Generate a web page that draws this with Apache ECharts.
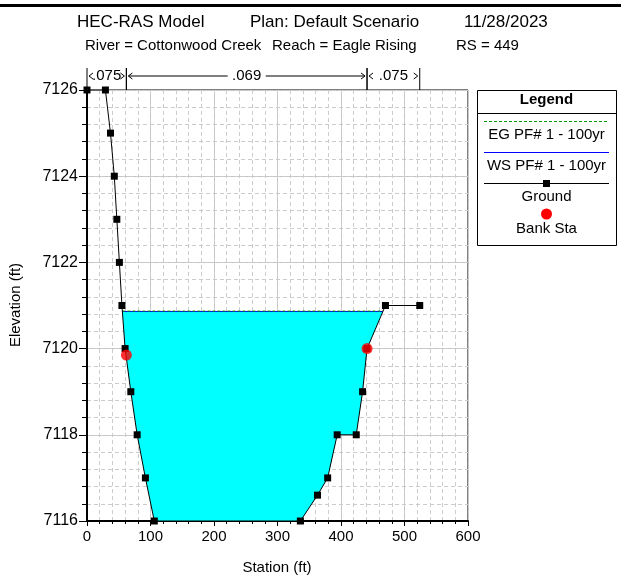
<!DOCTYPE html>
<html><head><meta charset="utf-8">
<script src="https://cdn.jsdelivr.net/npm/echarts@6/dist/echarts.min.js"></script>
<style>html,body{margin:0;padding:0;background:#fff}#c{width:621px;height:586px}</style>
</head><body><div id="c"></div>
<script>
// ---- data ----
const groundStation = [0, 29, 37, 43, 47, 51, 55, 60, 69, 79, 92, 106, 336, 363, 379, 394, 424, 434, 441, 470, 524];
const groundElev    = [7126, 7126, 7125, 7124, 7123, 7122, 7121, 7120, 7119, 7118, 7117, 7116, 7116, 7116.6, 7117, 7118, 7118, 7119, 7120, 7121, 7121];
const bankStation = [62, 441];
const bankElev    = [7119.85, 7120];
const wsElev = 7120.86;
const egElev = 7120.87;
const nBoundaries = [0, 62, 441, 524];
const nValues = ['.075', '.069', '.075'];
const xTickLabels = [0, 100, 200, 300, 400, 500, 600];
const yTickLabels = [7116, 7118, 7120, 7122, 7124, 7126];

const FONT = '"Liberation Sans", Arial, sans-serif';
const xMin = xTickLabels[0], xMax = xTickLabels[xTickLabels.length - 1];
const yMin = yTickLabels[0], yMax = yTickLabels[yTickLabels.length - 1];

// wetted polygon below the water surface
function wetted(st, el, ws) {
  const pts = [];
  for (let i = 0; i < st.length; i++) {
    if (i > 0) {
      const e0 = el[i - 1], e1 = el[i];
      if ((e0 - ws) * (e1 - ws) < 0) {
        const t = (ws - e0) / (e1 - e0);
        pts.push([st[i - 1] + t * (st[i] - st[i - 1]), ws]);
      }
    }
    if (el[i] < ws) pts.push([st[i], el[i]]);
  }
  return pts;
}
const water = wetted(groundStation, groundElev, wsElev);
const wsL = water[0][0], wsR = water[water.length - 1][0];

const ground = groundStation.map((s, i) => [s, groundElev[i]]);
const banks = bankStation.map((s, i) => [s, bankElev[i]]);
const nSegs = nValues.map((v, i) => [nBoundaries[i], nBoundaries[i + 1]]);

const chart = echarts.init(document.getElementById('c'), null, { renderer: 'canvas' });

const option = {
  animation: false,
  backgroundColor: '#fff',
  grid: { left: 87, top: 90, width: 381, height: 431, show: true, borderColor: '#000', borderWidth: 1, backgroundColor: 'transparent' },
  xAxis: [
    { type: 'value', min: xMin, max: xMax, interval: 100, position: 'bottom',
      axisLine: { show: true, onZero: false, lineStyle: { color: '#000', width: 2 } },
      axisTick: { show: true, inside: false, length: 5, lineStyle: { color: '#000' } },
      axisLabel: { margin: 8, color: '#000', fontSize: 15, fontFamily: FONT, formatter: v => String(v) },
      splitLine: { show: true, lineStyle: { color: '#c4c4c4', width: 1 } } },
    { type: 'value', min: xMin, max: xMax, interval: 20, position: 'bottom',
      axisLine: { show: false },
      axisTick: { show: true, inside: false, length: 3, lineStyle: { color: '#000' } },
      axisLabel: { show: false },
      splitLine: { show: true, lineStyle: { color: '#cccccc', width: 1, type: [4, 3] } } }
  ],
  yAxis: [
    { type: 'value', min: yMin, max: yMax, interval: 2, position: 'left',
      axisLine: { show: true, onZero: false, lineStyle: { color: '#000', width: 2 } },
      axisTick: { show: true, inside: false, length: 8, lineStyle: { color: '#000' } },
      axisLabel: { margin: 9, color: '#000', fontSize: 16, fontFamily: FONT, formatter: v => String(v) },
      splitLine: { show: true, lineStyle: { color: '#c4c4c4', width: 1 } } },
    { type: 'value', min: yMin, max: yMax, interval: 0.4, position: 'left',
      axisLine: { show: false },
      axisTick: { show: true, inside: false, length: 5, lineStyle: { color: '#000' } },
      axisLabel: { show: false },
      splitLine: { show: true, lineStyle: { color: '#cccccc', width: 1, type: [4, 3] } } }
  ],
  series: [
    { type: 'custom', name: 'water', xAxisIndex: 0, yAxisIndex: 0, z: 1, silent: true,
      data: water,
      renderItem: function (params, api) {
        if (params.dataIndex !== 0) return { type: 'group', children: [] };
        return { type: 'polygon', shape: { points: water.map(q => api.coord(q)) }, style: { fill: '#00ffff', stroke: null } };
      } },
    { type: 'line', name: 'WS PF# 1 - 100yr', z: 2, data: [[wsL, wsElev], [wsR, wsElev]], symbol: 'none',
      lineStyle: { color: '#0000ff', width: 1 } },
    { type: 'line', name: 'EG PF# 1 - 100yr', z: 3, data: [[wsL, egElev], [wsR, egElev]], symbol: 'none',
      lineStyle: { color: '#009900', width: 1, type: [3, 2] } },
    { type: 'line', name: 'Ground', z: 4, data: ground, symbol: 'rect', symbolSize: 7,
      itemStyle: { color: '#000' }, lineStyle: { color: '#000', width: 1 } },
    { type: 'scatter', name: 'Bank Sta', z: 5, data: banks, symbol: 'circle', symbolSize: 11,
      itemStyle: { color: '#ff0000' } },
    { type: 'custom', name: 'n', xAxisIndex: 0, yAxisIndex: 0, z: 6, clip: false, silent: true,
      data: nSegs,
      renderItem: function (params, api) {
        const a = api.coord([api.value(0), yMax]);
        const b = api.coord([api.value(1), yMax]);
        const top = a[1], y0 = top - 22, yl = top - 14;
        const cx = (a[0] + b[0]) / 2, half = 19;
        const ls = { stroke: '#000', lineWidth: 1, fill: null };
        const ch = [
          { type: 'line', shape: { x1: a[0], y1: y0, x2: a[0], y2: top }, style: ls },
          { type: 'line', shape: { x1: b[0], y1: y0, x2: b[0], y2: top }, style: ls },
          { type: 'polyline', shape: { points: [[a[0] + 6, yl - 3], [a[0] + 2, yl], [a[0] + 6, yl + 3]] }, style: ls },
          { type: 'polyline', shape: { points: [[b[0] - 6, yl - 3], [b[0] - 2, yl], [b[0] - 6, yl + 3]] }, style: ls }
        ];
        if (cx - half - (a[0] + 2) > 8) ch.push({ type: 'line', shape: { x1: a[0] + 2, y1: yl, x2: cx - half, y2: yl }, style: ls });
        if ((b[0] - 2) - (cx + half) > 8) ch.push({ type: 'line', shape: { x1: cx + half, y1: yl, x2: b[0] - 2, y2: yl }, style: ls });
        ch.push({ type: 'text', style: { text: nValues[params.dataIndex], x: cx, y: yl, align: 'center', verticalAlign: 'middle', fontSize: 15, fontFamily: FONT, fill: '#000' } });
        return { type: 'group', children: ch };
      } }
  ],
  graphic: [
    { type: 'rect', shape: { x: 0, y: 4, width: 621, height: 3 }, style: { fill: '#000' } },
    { type: 'text', x: 77, y: 22, style: { text: 'HEC-RAS Model', fontSize: 17, fontFamily: FONT, fill: '#000', verticalAlign: 'middle' } },
    { type: 'text', x: 250, y: 22, style: { text: 'Plan: Default Scenario', fontSize: 17, fontFamily: FONT, fill: '#000', verticalAlign: 'middle' } },
    { type: 'text', x: 464, y: 22, style: { text: '11/28/2023', fontSize: 17, fontFamily: FONT, fill: '#000', verticalAlign: 'middle' } },
    { type: 'text', x: 85, y: 46, style: { text: 'River = Cottonwood Creek', fontSize: 15, fontFamily: FONT, fill: '#000', verticalAlign: 'middle' } },
    { type: 'text', x: 272, y: 46, style: { text: 'Reach = Eagle Rising', fontSize: 15, fontFamily: FONT, fill: '#000', verticalAlign: 'middle' } },
    { type: 'text', x: 456, y: 46, style: { text: 'RS = 449', fontSize: 15, fontFamily: FONT, fill: '#000', verticalAlign: 'middle' } },
    { type: 'text', x: 277, y: 568, style: { text: 'Station (ft)', fontSize: 15, fontFamily: FONT, fill: '#000', align: 'center', verticalAlign: 'middle' } },
    { type: 'text', x: 16, y: 305, rotation: Math.PI / 2, style: { text: 'Elevation (ft)', fontSize: 15, fontFamily: FONT, fill: '#000', align: 'center', verticalAlign: 'middle' } },
    // legend box
    { type: 'rect', shape: { x: 477.5, y: 90.5, width: 139, height: 155 }, style: { fill: '#fff', stroke: '#000', lineWidth: 1 } },
    { type: 'text', x: 546.5, y: 100, style: { text: 'Legend', fontSize: 15, fontWeight: 'bold', fontFamily: FONT, fill: '#000', align: 'center', verticalAlign: 'middle' } },
    { type: 'line', shape: { x1: 477.5, y1: 113.5, x2: 616.5, y2: 113.5 }, style: { stroke: '#000', lineWidth: 1 } },
    { type: 'line', shape: { x1: 484, y1: 121.5, x2: 609, y2: 121.5 }, style: { stroke: '#009900', lineWidth: 1, lineDash: [3, 2] } },
    { type: 'text', x: 546.5, y: 135, style: { text: 'EG PF# 1 - 100yr', fontSize: 15, fontFamily: FONT, fill: '#000', align: 'center', verticalAlign: 'middle' } },
    { type: 'line', shape: { x1: 484, y1: 152.5, x2: 609, y2: 152.5 }, style: { stroke: '#0000ff', lineWidth: 1 } },
    { type: 'text', x: 546.5, y: 166, style: { text: 'WS PF# 1 - 100yr', fontSize: 15, fontFamily: FONT, fill: '#000', align: 'center', verticalAlign: 'middle' } },
    { type: 'line', shape: { x1: 484, y1: 183.5, x2: 609, y2: 183.5 }, style: { stroke: '#000', lineWidth: 1 } },
    { type: 'rect', shape: { x: 543, y: 180, width: 7, height: 7 }, style: { fill: '#000' } },
    { type: 'text', x: 546.5, y: 197, style: { text: 'Ground', fontSize: 15, fontFamily: FONT, fill: '#000', align: 'center', verticalAlign: 'middle' } },
    { type: 'circle', shape: { cx: 546.5, cy: 214, r: 5.5 }, style: { fill: '#ff0000' } },
    { type: 'text', x: 546.5, y: 229, style: { text: 'Bank Sta', fontSize: 15, fontFamily: FONT, fill: '#000', align: 'center', verticalAlign: 'middle' } }
  ]
};
chart.setOption(option);
</script>
</body></html>
